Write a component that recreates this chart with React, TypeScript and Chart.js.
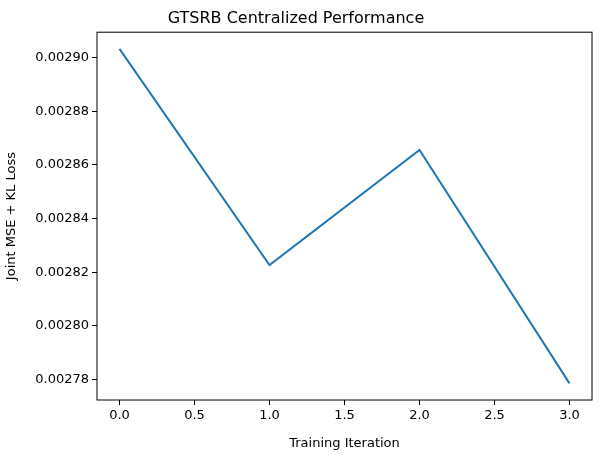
import { useEffect, useRef } from "react";
import Chart from "chart.js/auto";

const iterations = [0, 1, 2, 3];
const loss = [0.0029033, 0.0028226, 0.0028656, 0.0027785];

const boxPlugin = {
  id: "box",
  afterDraw(chart: any) {
    const { ctx, chartArea: a } = chart;
    ctx.save();
    ctx.strokeStyle = "#000";
    ctx.lineWidth = 1;
    ctx.strokeRect(a.left, a.top, a.right - a.left, a.bottom - a.top);
    ctx.restore();
  },
};

export default function App() {
  const ref = useRef<HTMLCanvasElement>(null);

  useEffect(() => {
    if (!ref.current) return;
    document.body.style.margin = "0";
    Chart.defaults.font.family = "'DejaVu Sans', sans-serif";
    Chart.defaults.color = "#000";
    const tickGrid = { drawOnChartArea: false, drawTicks: true, tickLength: 5, color: "#000" };
    const chart = new Chart(ref.current, {
      type: "line",
      data: {
        datasets: [
          {
            data: iterations.map((x, i) => ({ x, y: loss[i] })),
            borderColor: "#1f77b4",
            borderWidth: 2,
            pointRadius: 0,
            tension: 0,
          },
        ],
      },
      options: {
        responsive: false,
        animation: false,
        layout: { padding: { right: 10 } },
        plugins: {
          legend: { display: false },
          tooltip: { enabled: false },
          title: {
            display: true,
            text: "GTSRB Centralized Performance",
            font: { size: 16, weight: "normal" },
            padding: { top: 9, bottom: 4 },
          },
        },
        scales: {
          x: {
            type: "linear",
            min: -0.15,
            max: 3.15,
            grid: tickGrid,
            border: { display: false },
            afterBuildTicks: (s: any) => {
              s.ticks = [0, 0.5, 1, 1.5, 2, 2.5, 3].map((v) => ({ value: v }));
            },
            ticks: { font: { size: 13 }, callback: (v: any) => Number(v).toFixed(1) },
            title: { display: true, text: "Training Iteration", font: { size: 13 }, padding: { top: -3 } },
            afterFit: (s: any) => { s.height = 55; },
          },
          y: {
            min: 0.0027723,
            max: 0.0029095,
            grid: tickGrid,
            border: { display: false },
            afterBuildTicks: (s: any) => {
              s.ticks = [0.00278, 0.0028, 0.00282, 0.00284, 0.00286, 0.00288, 0.0029].map((v) => ({ value: v }));
            },
            ticks: { font: { size: 13 }, callback: (v: any) => Number(v).toFixed(5) },
            title: { display: true, text: "Joint MSE + KL Loss", font: { size: 13 }, padding: { top: 4 } },
            afterFit: (s: any) => { s.width = 97; },
          },
        },
      },
      plugins: [boxPlugin],
    });
    return () => chart.destroy();
  }, []);

  return <canvas ref={ref} width={602} height={455} />;
}
